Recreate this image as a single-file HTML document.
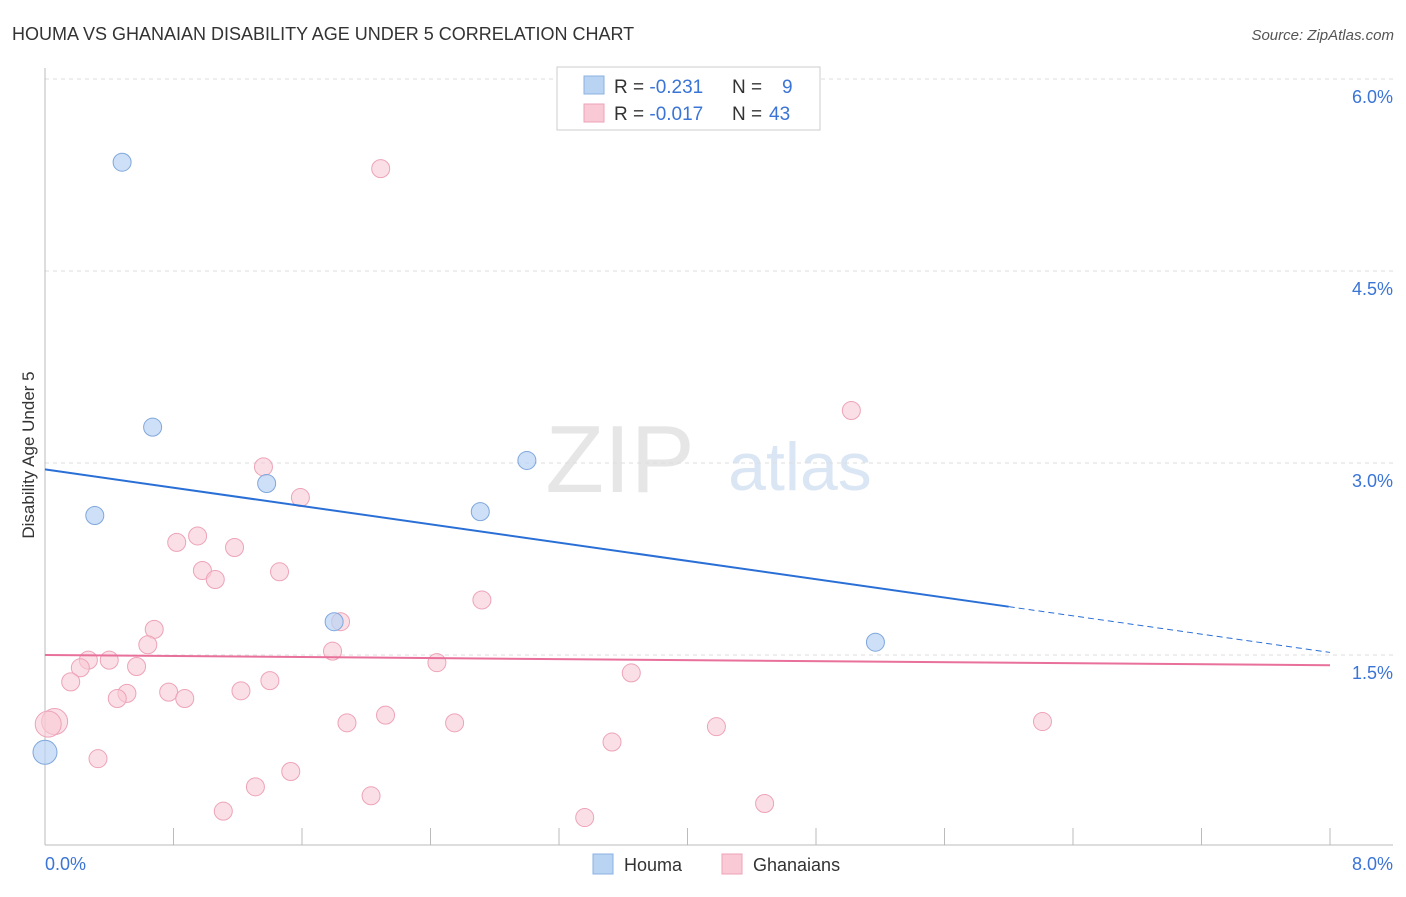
<!DOCTYPE html>
<html><head><meta charset="utf-8"><style>
body{margin:0;background:#fff;font-family:"Liberation Sans",sans-serif;}
svg text{font-family:"Liberation Sans",sans-serif;}
</style></head><body>
<svg width="1406" height="892" viewBox="0 0 1406 892" id="chart">
<text x="12" y="40" font-size="18" fill="#333">HOUMA VS GHANAIAN DISABILITY AGE UNDER 5 CORRELATION CHART</text>
<text x="1394" y="40" font-size="15" fill="#555" text-anchor="end" font-style="italic">Source: ZipAtlas.com</text>
<text x="620" y="492" font-size="96" fill="#e6e6e6" font-family="Liberation Serif" text-anchor="middle">ZIP</text>
<text x="800" y="490" font-size="68" fill="#dbe6f5" text-anchor="middle">atlas</text>
<text transform="translate(34,455) rotate(-90)" font-size="17" fill="#333" text-anchor="middle">Disability Age Under 5</text>
<g id="grid"></g><g id="axes"></g><g id="marks"></g>
<g>
<rect x="557" y="67" width="263" height="63" fill="#fff" stroke="#ccc"/>
<rect x="584" y="76" width="20" height="18" fill="#b9d3f3" stroke="#8ab0e0"/>
<rect x="584" y="104" width="20" height="18" fill="#f9c9d6" stroke="#eda3b8"/>
<text x="614" y="93" font-size="19" fill="#333">R = <tspan fill="#3a74d6">-0.231</tspan><tspan x="732">N = </tspan><tspan x="782" fill="#3a74d6">9</tspan></text>
<text x="614" y="120" font-size="19" fill="#333">R = <tspan fill="#3a74d6">-0.017</tspan><tspan x="732">N = </tspan><tspan x="769" fill="#3a74d6">43</tspan></text>
</g>
<g>
<rect x="593" y="854" width="20" height="20" fill="#b9d3f3" stroke="#8ab0e0"/>
<text x="624" y="871" font-size="18" fill="#333">Houma</text>
<rect x="722" y="854" width="20" height="20" fill="#f9c9d6" stroke="#eda3b8"/>
<text x="753" y="871" font-size="18" fill="#333">Ghanaians</text>
</g>
</svg>
<script>
const yTicks=[1.5,3.0,4.5,6.0];
const yTickLabels=["1.5%","3.0%","4.5%","6.0%"];
const xTickLabels=["0.0%","8.0%"];
const houmaX=[0.48,0.67,0.31,1.38,1.80,2.71,3.00,5.17,0];
const houmaY=[5.35,3.28,2.59,2.84,1.76,2.62,3.02,1.60,0.74];
const ghanaX=[2.09,5.02,1.36,1.59,0.95,0.82,1.18,0.98,1.06,1.46,2.72,0.68,1.84,0.64,1.79,0.27,0.40,0.22,0.57,2.44,3.65,0.16,1.40,0.51,0.45,0.77,0.87,1.22,0.06,1.88,2.12,2.55,4.18,6.21,0.33,3.53,1.53,1.31,1.11,2.03,3.36,4.48,0.02];
const ghanaY=[5.30,3.41,2.97,2.73,2.43,2.38,2.34,2.16,2.09,2.15,1.93,1.70,1.76,1.58,1.53,1.46,1.46,1.40,1.41,1.44,1.36,1.29,1.30,1.20,1.16,1.21,1.16,1.22,0.98,0.97,1.03,0.97,0.94,0.98,0.69,0.82,0.59,0.47,0.28,0.40,0.23,0.34,0.96];
const houmaTrend=[2.95,1.52];
const ghanaTrend=[1.50,1.42];
const xMax=8;
const sx=v=>45+v*(1285/8), sy=v=>847-v*128;
const NS="http://www.w3.org/2000/svg";
function mk(p,t,a){const e=document.createElementNS(NS,t);for(const k in a)e.setAttribute(k,a[k]);p.appendChild(e);return e;}
const grid=document.getElementById('grid'),axes=document.getElementById('axes'),marks=document.getElementById('marks');
yTicks.forEach((v,i)=>{
 const l=mk(grid,'line',{x1:45,x2:1393,y1:sy(v),y2:sy(v),stroke:'#ddd','stroke-dasharray':'4,4'});
 
 
 const t=mk(grid,'text',{x:1393,y:sy(v)+24,'font-size':18,fill:'#3a74d6','text-anchor':'end'});
 t.textContent=yTickLabels[i];
 
 
});
const ax=mk(axes,'line',{x1:45,x2:45,y1:68,y2:845,stroke:'#bbb'});


const bx=mk(axes,'line',{x1:45,x2:1393,y1:845,y2:845,stroke:'#bbb'});


for(let i=0;i<=10;i++){const x=sx(i*0.8);const t=mk(axes,'line',{x1:x,x2:x,y1:828,y2:845,stroke:'#bbb'});
 
 }
[[0,'start',45],[8,'end',1393]].forEach((d,i)=>{const t=mk(axes,'text',{x:d[2],y:870,'font-size':18,fill:'#3a74d6','text-anchor':d[1]});t.textContent=xTickLabels[i];
 
 });
ghanaX.forEach((x,i)=>{const big=(i==28||i==42);const c=mk(marks,'circle',{cx:sx(x),cy:sy(ghanaY[i]),r:big?13:9,fill:'#f9c9d6','fill-opacity':0.6,stroke:'#eda3b8'});
 
 });
houmaX.forEach((x,i)=>{const c=mk(marks,'circle',{cx:sx(x),cy:sy(houmaY[i]),r:x==0?12:9,fill:'#b9d3f3','fill-opacity':0.7,stroke:'#7fa7dc'});
 
 });
const hy=x=>houmaTrend[0]+(houmaTrend[1]-houmaTrend[0])*x/xMax;
const l1=mk(marks,'line',{x1:sx(0),y1:sy(hy(0)),x2:sx(6),y2:sy(hy(6)),stroke:'#2a6fd6','stroke-width':2});


const l2=mk(marks,'line',{x1:sx(6),y1:sy(hy(6)),x2:sx(8),y2:sy(hy(8)),stroke:'#2a6fd6','stroke-width':1,'stroke-dasharray':'6,4'});


const l3=mk(marks,'line',{x1:sx(0),y1:sy(ghanaTrend[0]),x2:sx(8),y2:sy(ghanaTrend[1]),stroke:'#e8709a','stroke-width':2});


</script>
</body></html>
